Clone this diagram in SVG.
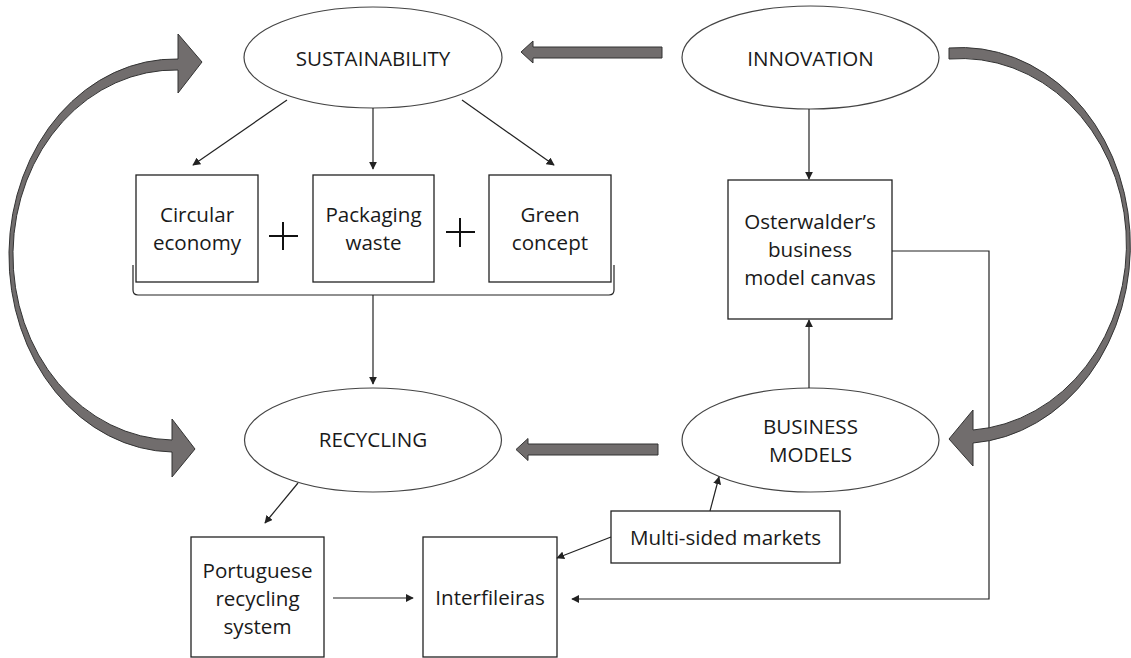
<svg xmlns="http://www.w3.org/2000/svg" width="1131" height="658" viewBox="0 0 1131 658">
  <defs>
    <style>
      .oval { fill: #fff; stroke: #444; stroke-width: 1.2; }
      .box { fill: #fff; stroke: #222; stroke-width: 1.3; }
      .lbl { font-family: "Open Sans", "Liberation Sans", sans-serif; font-size: 20.6px; fill: #1a1a1a; text-anchor: middle; }
      .link { fill: none; stroke: #222; stroke-width: 1.2; }
      .big { fill: #716d6d; stroke: #333; stroke-width: 1; stroke-linejoin: miter; }
      .plus { stroke: #111; stroke-width: 2; }
    </style>
    <marker id="tip" viewBox="0 0 10 10" refX="9" refY="5" markerWidth="8" markerHeight="8" markerUnits="userSpaceOnUse" orient="auto">
      <path d="M0 0 L10 5 L0 10 Z" fill="#222"/>
    </marker>
  </defs>

  <!-- Ovals -->
  <g id="sustainability">
    <ellipse class="oval" cx="373" cy="57.5" rx="129" ry="50.5"/>
    <text class="lbl" x="373" y="66">SUSTAINABILITY</text>
  </g>
  <g id="innovation">
    <ellipse class="oval" cx="810.5" cy="57.5" rx="128.5" ry="51.5"/>
    <text class="lbl" x="810.5" y="66">INNOVATION</text>
  </g>
  <g id="recycling">
    <ellipse class="oval" cx="373" cy="440" rx="128.5" ry="52"/>
    <text class="lbl" x="373" y="447">RECYCLING</text>
  </g>
  <g id="business-models">
    <ellipse class="oval" cx="810.5" cy="440" rx="128.5" ry="52"/>
    <text class="lbl" x="810.5" y="434">BUSINESS</text>
    <text class="lbl" x="810.5" y="462">MODELS</text>
  </g>

  <!-- Boxes -->
  <g id="circular-economy">
    <rect class="box" x="136" y="175" width="122" height="107"/>
    <text class="lbl" x="197" y="222">Circular</text>
    <text class="lbl" x="197" y="250">economy</text>
  </g>
  <g id="packaging-waste">
    <rect class="box" x="313" y="175" width="121" height="107"/>
    <text class="lbl" x="373.5" y="222">Packaging</text>
    <text class="lbl" x="373.5" y="250">waste</text>
  </g>
  <g id="green-concept">
    <rect class="box" x="489" y="175" width="122" height="107"/>
    <text class="lbl" x="550" y="222">Green</text>
    <text class="lbl" x="550" y="250">concept</text>
  </g>
  <g id="osterwalder">
    <rect class="box" x="728" y="180" width="164" height="139"/>
    <text class="lbl" x="810" y="229">Osterwalder’s</text>
    <text class="lbl" x="810" y="257">business</text>
    <text class="lbl" x="810" y="285">model canvas</text>
  </g>
  <g id="portuguese-recycling-system">
    <rect class="box" x="191" y="537" width="133" height="120"/>
    <text class="lbl" x="257.5" y="578">Portuguese</text>
    <text class="lbl" x="257.5" y="606">recycling</text>
    <text class="lbl" x="257.5" y="634">system</text>
  </g>
  <g id="interfileiras">
    <rect class="box" x="423" y="537" width="134" height="120"/>
    <text class="lbl" x="490" y="605">Interfileiras</text>
  </g>
  <g id="multi-sided-markets">
    <rect class="box" x="611" y="511" width="229" height="52"/>
    <text class="lbl" x="725.5" y="545">Multi-sided markets</text>
  </g>

  <!-- Plus signs between the three concepts -->
  <g id="plus-signs">
    <line class="plus" x1="269" y1="236" x2="298" y2="236"/>
    <line class="plus" x1="283" y1="222" x2="283" y2="250"/>
    <line class="plus" x1="446" y1="232" x2="475" y2="232"/>
    <line class="plus" x1="460" y1="218" x2="460" y2="247"/>
  </g>

  <!-- Connectors -->
  <g id="connectors">
    <line class="link" x1="287" y1="100" x2="193" y2="165" marker-end="url(#tip)"/>
    <line class="link" x1="373" y1="108" x2="373" y2="169" marker-end="url(#tip)"/>
    <line class="link" x1="462" y1="100" x2="554" y2="165" marker-end="url(#tip)"/>
    <path class="link" d="M133 265 L133 290 Q133 295 138 295 L609 295 Q614 295 614 290 L614 265"/>
    <line class="link" x1="373" y1="295" x2="373" y2="384" marker-end="url(#tip)"/>
    <line class="link" x1="809" y1="109" x2="809" y2="179" marker-end="url(#tip)"/>
    <line class="link" x1="809" y1="388" x2="809" y2="320" marker-end="url(#tip)"/>
    <path class="link" d="M892 251 L989 251 L989 599 L572 599" marker-end="url(#tip)"/>
    <line class="link" x1="298" y1="483" x2="265" y2="523" marker-end="url(#tip)"/>
    <line class="link" x1="333" y1="598" x2="413" y2="598" marker-end="url(#tip)"/>
    <line class="link" x1="611" y1="537" x2="557" y2="558" marker-end="url(#tip)"/>
    <line class="link" x1="710" y1="511" x2="719" y2="477" marker-end="url(#tip)"/>

    <!-- Block arrows -->
    <path class="big" d="M662 47 L533 47 L533 41 L521 52 L533 63 L533 58 L662 58 Z"/>
    <path class="big" d="M658 444 L528 444 L528 438.5 L516 449.5 L528 460.5 L528 455 L658 455 Z"/>
    <!-- Left double-headed curved arrow -->
    <path class="big" d="M202 62 L178 34 L178 59 A166 196.5 0 0 0 172 452 L172 477 L195 449 L172 419 L172 440 A162 185 0 0 1 178 70 L178 93 Z"/>
    <!-- Right curved arrow -->
    <path class="big" d="M949 48 A169 197.5 0 0 1 973 443 L973 466 L949 439 L973 410 L973 430 A165 185.5 0 0 0 949 59 Z"/>
  </g>
</svg>
